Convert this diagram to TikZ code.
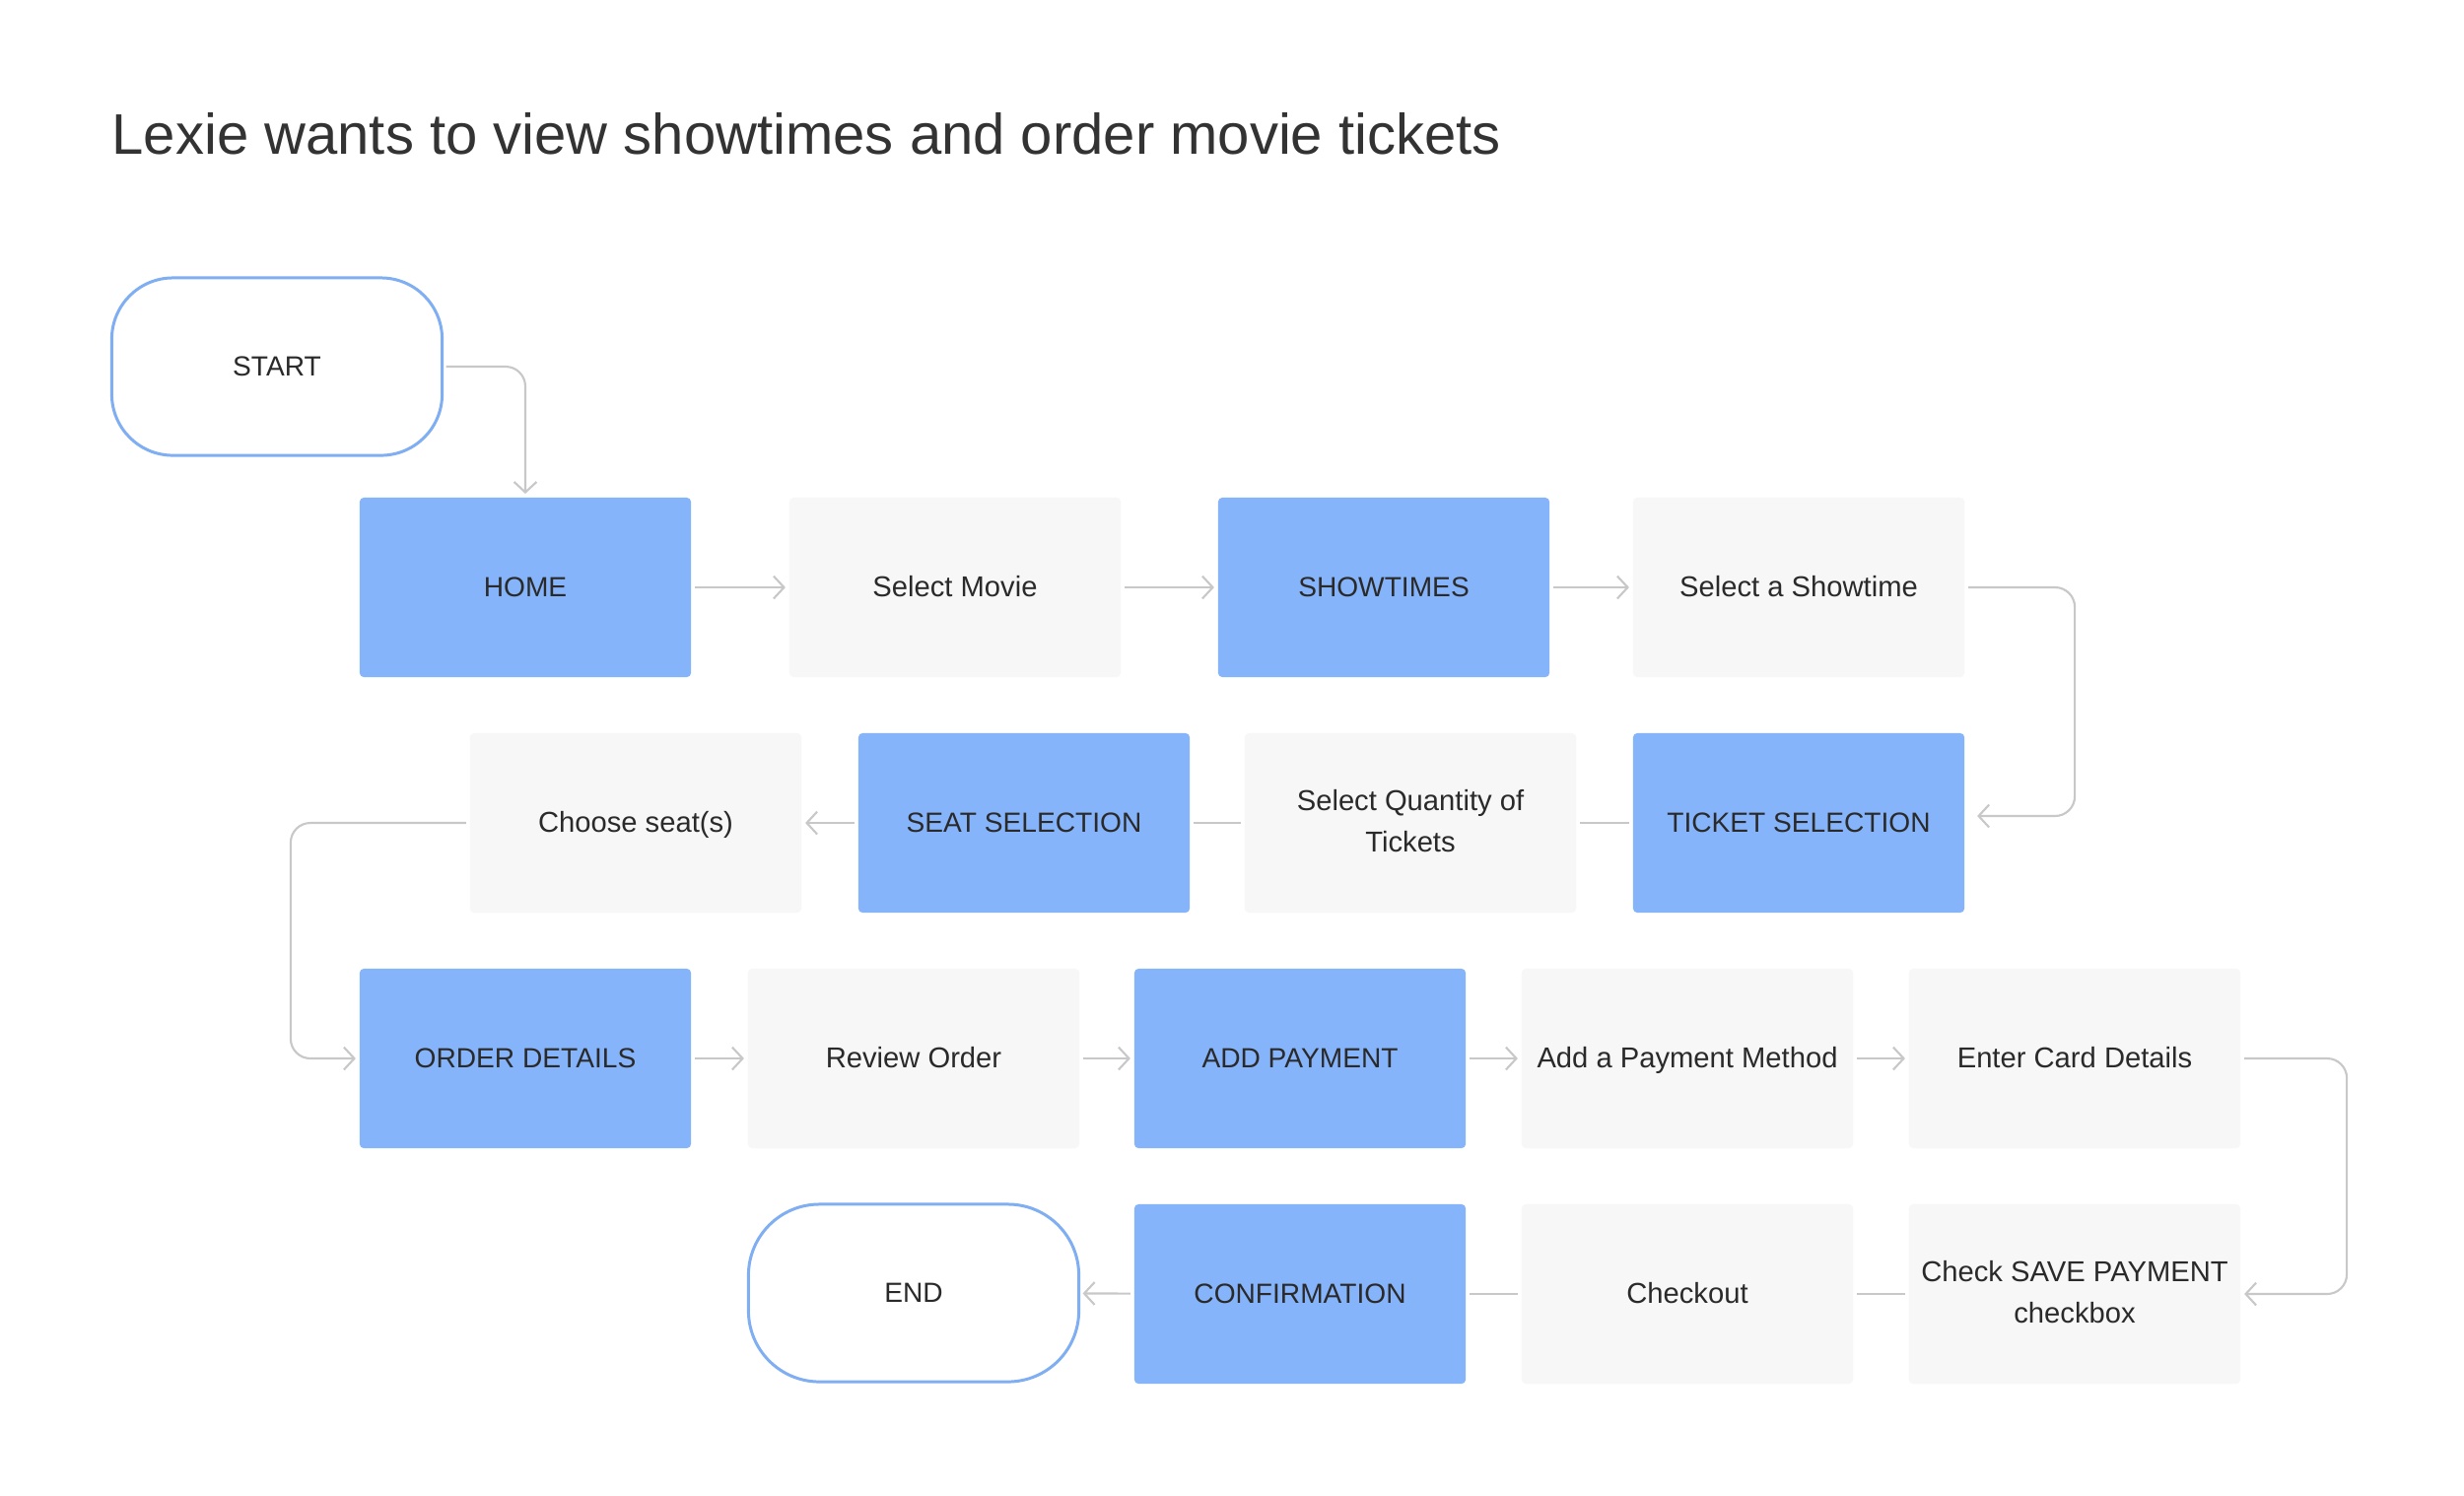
\documentclass[tikz,border=0pt]{standalone}
\usepackage{fontspec}
\setmainfont{Liberation Sans}
\usetikzlibrary{arrows.meta}
\definecolor{boxblue}{HTML}{86B4FA}
\definecolor{boxgray}{HTML}{F7F7F7}
\definecolor{termblue}{HTML}{7FAEF2}
\definecolor{linegray}{HTML}{C8C8C8}
\definecolor{txt}{HTML}{2A2A2A}
\definecolor{titletxt}{HTML}{333333}
\newcommand{\vstrut}{\rule[-1.4pt]{0pt}{8.4pt}}
\begin{document}
\begin{tikzpicture}[x=0.01cm,y=-0.01cm,
  base/.style={minimum width=3.36cm,minimum height=1.82cm,rounded corners=1.2pt,outer sep=0.04cm,text=txt,font=\fontsize{8.3}{12}\selectfont,align=center,inner sep=0pt,execute at begin node=\vstrut,execute at end node=\vstrut},
  screen/.style={base,fill=boxblue,font=\fontsize{8.0}{12}\selectfont},
  action/.style={base,fill=boxgray},
  terminal/.style={base,draw=termblue,line width=0.85pt,fill=white,minimum width=3.35cm,minimum height=1.80cm,font=\fontsize{8.0}{12}\selectfont},
  link/.style={draw=linegray,line width=0.6pt,rounded corners=0.2cm},
  arr/.style={link,-{Straight Barb[length=3pt,width=6.5pt]}}]
\fill[white] (0,0) rectangle (2500,1517);
\useasboundingbox (0,0) rectangle (2500,1517);

\node[anchor=base west,text=titletxt,font=\fontsize{16.5}{20}\selectfont,inner sep=0pt] (title) at (113,156) {Lexie wants to view showtimes and order movie tickets};

\node[terminal,rounded corners=0.62cm] (start) at (281,372) {START};

\node[screen] (home) at (533,596) {HOME};
\node[action] (smovie) at (969,596) {Select Movie};
\node[screen] (show) at (1404,596) {SHOWTIMES};
\node[action] (sshow) at (1825,596) {Select a Showtime};

\node[action] (seat) at (645,835) {Choose seat(s)};
\node[screen] (seatsel) at (1039,835) {SEAT SELECTION};
\node[action] (qty) at (1431,835) {Select Quantity of\\Tickets};
\node[screen] (ticket) at (1825,835) {TICKET SELECTION};

\node[screen] (order) at (533,1074) {ORDER DETAILS};
\node[action] (review) at (927,1074) {Review Order};
\node[screen] (addpay) at (1319,1074) {ADD PAYMENT};
\node[action] (addpm) at (1712,1074) {Add a Payment Method};
\node[action] (card) at (2105,1074) {Enter Card Details};

\node[terminal,rounded corners=0.72cm] (end) at (927,1312) {END};
\node[screen] (confirm) at (1319,1313) {CONFIRMATION};
\node[action] (checkout) at (1712,1313) {Checkout};
\node[action] (save) at (2105,1313) {Check SAVE PAYMENT\\checkbox};

\draw[arr] (start.east) -| (home.north);
\draw[arr] (home) -- (smovie);
\draw[arr] (smovie) -- (show);
\draw[arr] (show) -- (sshow);
\draw[arr,shorten >=0.09cm] (sshow.east) -- ++(108,0) |- ([yshift=0.07cm]ticket.east);
\draw[link] (ticket) -- (qty);
\draw[link] (qty) -- (seatsel);
\draw[arr] (seatsel) -- (seat);
\draw[arr] (seat.west) -- ++(-178,0) |- (order.west);
\draw[arr] (order) -- (review);
\draw[arr] (review) -- (addpay);
\draw[arr] (addpay) -- (addpm);
\draw[arr] (addpm) -- (card);
\draw[arr] (card.east) -- ++(104,0) |- (save.east);
\draw[link] (save) -- (checkout);
\draw[link] (checkout) -- (confirm);
\draw[arr] (confirm) -- (end);
\end{tikzpicture}
\end{document}
